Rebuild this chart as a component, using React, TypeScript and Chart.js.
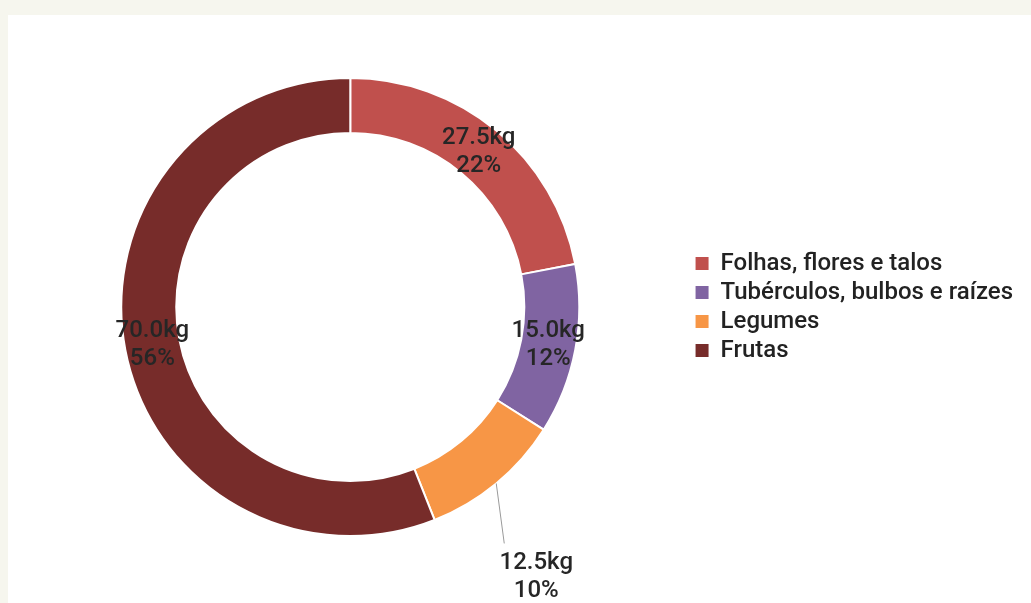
import React, { useEffect, useRef } from "react";
import { Chart, registerables } from "chart.js";

Chart.register(...registerables);

const categories = [
  "Folhas, flores e talos",
  "Tubérculos, bulbos e raízes",
  "Legumes",
  "Frutas",
];
const weightsKg = [27.5, 15.0, 12.5, 70.0];
const sliceColors = ["#c0504d", "#8064a2", "#f79646", "#772c2a"];
const unit = "kg";

const FONT = "Roboto, 'Noto Sans', sans-serif";

const sliceLabelPlugin = {
  id: "sliceLabels",
  afterDatasetsDraw(chart: any) {
    const ctx = chart.ctx;
    const meta = chart.getDatasetMeta(0);
    const data: number[] = chart.data.datasets[0].data;
    const total = data.reduce((a, b) => a + b, 0);
    ctx.save();
    ctx.font = `500 24px ${FONT}`;
    ctx.fillStyle = "#262626";
    ctx.textAlign = "center";
    ctx.textBaseline = "middle";
    meta.data.forEach((arc: any, i: number) => {
      const p = arc.getProps(
        ["x", "y", "startAngle", "endAngle", "innerRadius", "outerRadius"],
        true
      );
      const mid = (p.startAngle + p.endAngle) / 2;
      const pct = Math.round((data[i] / total) * 100);
      const l1 = data[i].toFixed(1) + unit;
      const l2 = pct + "%";
      if (pct >= 11) {
        const r = (p.innerRadius + p.outerRadius) / 2;
        const cx = p.x + Math.cos(mid) * r;
        const cy = p.y + Math.sin(mid) * r;
        ctx.fillText(l1, cx, cy - 14);
        ctx.fillText(l2, cx, cy + 14);
      } else {
        const sx = p.x + Math.cos(mid) * p.outerRadius;
        const sy = p.y + Math.sin(mid) * p.outerRadius;
        const ex = sx + 8;
        const ey = sy + 60;
        ctx.strokeStyle = "#9a9a9a";
        ctx.lineWidth = 1;
        ctx.beginPath();
        ctx.moveTo(sx, sy);
        ctx.lineTo(ex, ey);
        ctx.stroke();
        ctx.fillText(l1, ex + 32, ey + 20);
        ctx.fillText(l2, ex + 32, ey + 48);
      }
    });
    ctx.restore();
  },
};

export default function App() {
  const ref = useRef<HTMLCanvasElement | null>(null);

  useEffect(() => {
    if (!ref.current) return;
    const chart = new Chart(ref.current, {
      type: "doughnut",
      data: {
        labels: categories,
        datasets: [
          {
            data: weightsKg,
            backgroundColor: sliceColors,
            borderColor: "#ffffff",
            borderWidth: 2,
          },
        ],
      },
      options: {
        responsive: false,
        animation: false,
        cutout: "76%",
        layout: { padding: { top: 62, bottom: 66, left: 2, right: 8 } },
        plugins: {
          tooltip: { enabled: false },
          legend: {
            position: "right",
            labels: {
              boxWidth: 13,
              boxHeight: 13,
              padding: 5,
              color: "#222222",
              font: { family: FONT, size: 24, weight: "500" },
              generateLabels: (c: any) =>
                (Chart as any).overrides.doughnut.plugins.legend.labels
                  .generateLabels(c)
                  .map((l: any) => ({ ...l, lineWidth: 0 })),
            },
          },
        },
      },
      plugins: [sliceLabelPlugin],
    });
    return () => chart.destroy();
  }, []);

  return (
    <div style={{ position: "fixed", inset: 0, background: "#f6f6ee" }}>
      <div
        style={{
          position: "absolute",
          left: 8,
          top: 15,
          width: 1023,
          height: 588,
          background: "#ffffff",
        }}
      >
        <canvas ref={ref} width={1023} height={588} style={{ display: "block" }} />
      </div>
    </div>
  );
}
